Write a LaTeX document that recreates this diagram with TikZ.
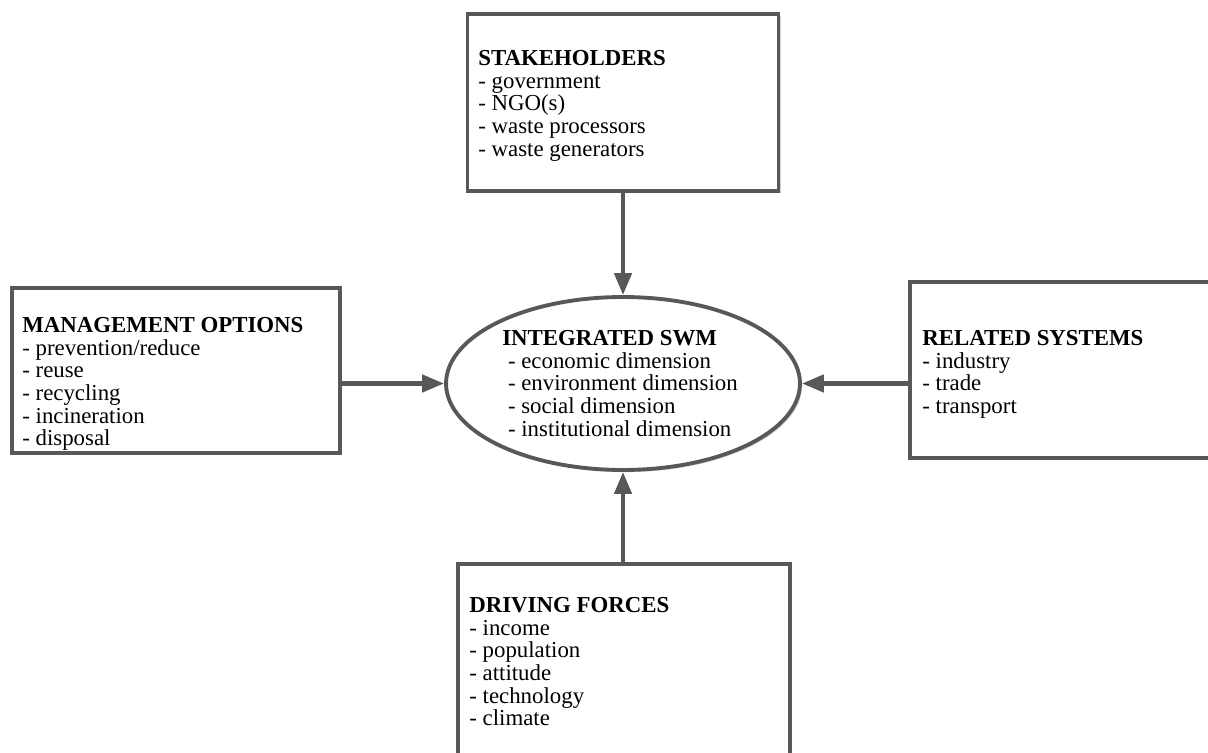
\documentclass[tikz,border=0pt]{standalone}
\usepackage{fontspec}
\setmainfont{Liberation Serif}
\usetikzlibrary{arrows.meta,shapes.geometric,shadows}
\definecolor{framegray}{HTML}{585858}

\begin{document}
\begin{tikzpicture}[x=0.02cm, y=-0.02cm,
  box/.style={draw=framegray, line width=2.2pt, fill=white, rectangle,
    drop shadow={shadow xshift=1.4pt, shadow yshift=-1.4pt, fill=gray!70}},
  oval/.style={draw=framegray, line width=2.2pt, fill=white, ellipse,
    drop shadow={shadow xshift=1.2pt, shadow yshift=-1.2pt, fill=gray!70}},
  txt/.style={anchor=north west, align=left, inner sep=0pt,
    font=\fontsize{13}{12.9}\selectfont},
  arr/.style={draw=framegray, line width=2.6pt,
    -{Triangle[width=0.34cm, length=0.44cm]}}]
\useasboundingbox (0,0) rectangle (1208,753);
\clip (0,0) rectangle (1208,753);

\node[box, minimum width=6.22cm, minimum height=3.54cm] (stake) at (623,102.5) {};
\node[box, minimum width=6.56cm, minimum height=3.3cm] (mgmt) at (176,370.5) {};
\node[box, minimum width=6.4cm, minimum height=3.52cm] (related) at (1070,370) {};
\node[box, minimum width=6.64cm, minimum height=4.24cm] (drive) at (624,670) {};
\node[oval, minimum width=7.08cm, minimum height=3.46cm] (swm) at (623,383.5) {};

\node[txt] (staketxt) at (478,50) {\textbf{STAKEHOLDERS}\\- government\\- NGO(s)\\- waste processors\\- waste generators};
\node[txt] (mgmttxt) at (22,317) {\textbf{MANAGEMENT OPTIONS}\\- prevention/reduce\\- reuse\\- recycling\\- incineration\\- disposal};
\node[txt] (relatedtxt) at (922,330) {\textbf{RELATED SYSTEMS}\\- industry\\- trade\\- transport};
\node[txt] (drivetxt) at (469,597) {\textbf{DRIVING FORCES}\\- income\\- population\\- attitude\\- technology\\- climate};
\node[txt] (swmtxt) at (502,330) {\textbf{INTEGRATED SWM}\\\ - economic dimension\\\ - environment dimension\\\ - social dimension\\\ - institutional dimension};

\draw[arr] (swm.north |- stake.south) -- (swm.north);
\draw[arr] (mgmt.east |- swm.west) -- (swm.west);
\draw[arr] (related.west |- swm.east) -- (swm.east);
\draw[arr] (swm.south |- drive.north) -- (swm.south);

\end{tikzpicture}
\end{document}
